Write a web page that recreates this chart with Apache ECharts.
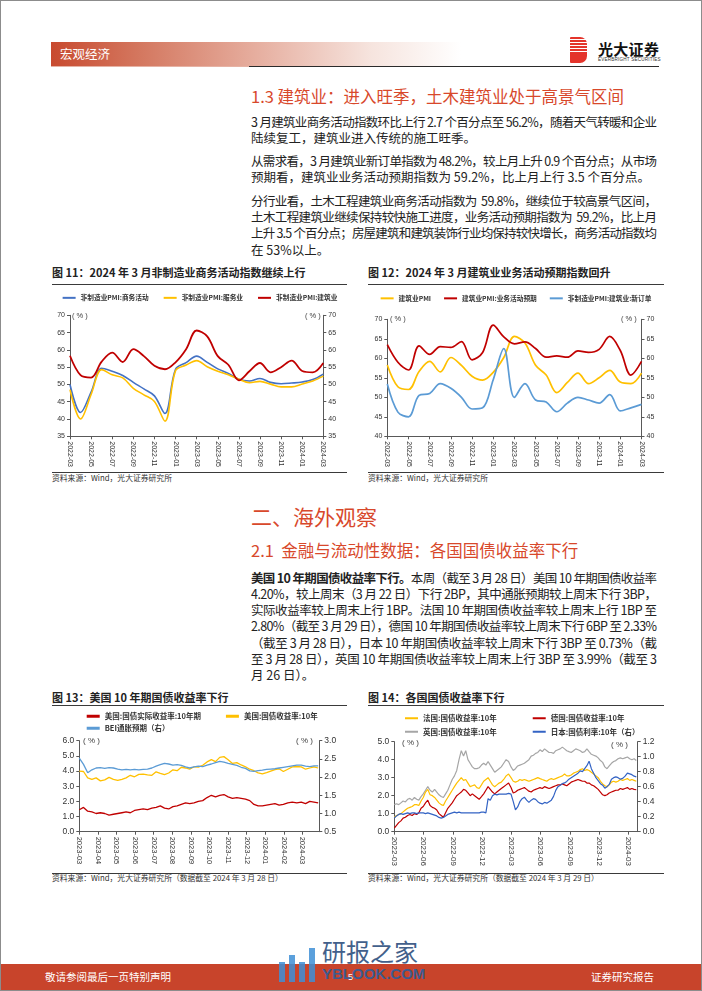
<!DOCTYPE html>
<html><head><meta charset="utf-8">
<script src="https://cdn.jsdelivr.net/npm/echarts/dist/echarts.min.js"></script>
<style>
html,body{margin:0;padding:0;background:#fff;}
#page{position:relative;width:702px;height:991px;overflow:hidden;font-family:"Noto Sans CJK SC","Noto Sans",sans-serif;color:#222;background:#fff;}
.abs{position:absolute;white-space:nowrap;}
.tl{position:absolute;left:251px;width:406px;height:16px;line-height:16px;font-size:12.5px;color:#222;white-space:nowrap;}
.h1{position:absolute;left:251px;color:#D8482B;white-space:nowrap;}
.cap{position:absolute;font-size:11px;font-weight:bold;color:#222;white-space:nowrap;line-height:14px;}
.rule{position:absolute;height:1.3px;background:#3a3a3a;}
.src{position:absolute;font-size:7.8px;color:#333;white-space:nowrap;line-height:10px;}
.pct{position:absolute;font-size:7.5px;color:#404040;white-space:nowrap;line-height:10px;font-family:"Liberation Sans","Noto Sans CJK SC",sans-serif;}
.chart{position:absolute;}
</style></head>
<body>
<div id="page">
  <div class="abs" style="left:0;top:0;width:700px;height:989px;border:1px solid #8c8c8c;"></div>
  <!-- header -->
  <div class="abs" style="left:51px;top:42px;width:410px;height:24px;background:linear-gradient(90deg,#C84A2F 0%,#D47860 22%,#E6AE9F 50%,#F6E4DE 78%,#FFFFFF 100%);"></div>
  <div class="abs" style="left:60px;top:43px;height:21px;line-height:21px;font-size:12.5px;color:#fff;">宏观经济</div>
  <div class="abs" style="left:51px;top:66px;width:200px;height:1px;background:#E6B2A4;"></div>
  <div class="abs" style="left:249px;top:66px;width:410px;height:1.3px;background:#2b2b2b;"></div>
  <div class="abs" style="left:570px;top:37px;width:17px;height:26px;border-radius:1px 7px 7px 1px;background:repeating-linear-gradient(180deg,#E4342B 0 2.3px,#ffffff 2.3px 2.9px);"></div>
  <div class="abs" style="left:598px;top:40px;font-size:15px;line-height:17px;font-weight:bold;color:#111;letter-spacing:0.3px;">光大证券</div>
  <div class="abs" style="left:598px;top:57px;font-size:4.6px;line-height:5px;color:#333;font-family:'Liberation Sans',sans-serif;letter-spacing:0.2px;">EVERBRIGHT SECURITIES</div>

  <!-- section 1.3 -->
  <div class="h1" style="top:84.5px;font-size:16.5px;line-height:22px;">1.3 建筑业：进入旺季，土木建筑业处于高景气区间</div>
  <div class="tl full" style="top:113.7px;">3 月建筑业商务活动指数环比上行 2.7 个百分点至 56.2%，随着天气转暖和企业</div>
  <div class="tl" style="top:130.3px;">陆续复工，建筑业进入传统的施工旺季。</div>
  <div class="tl full" style="top:153px;">从需求看，3 月建筑业新订单指数为 48.2%，较上月上升 0.9 个百分点；从市场</div>
  <div class="tl" style="top:169.3px;">预期看，建筑业业务活动预期指数为 59.2%，比上月上行 3.5 个百分点。</div>
  <div class="tl full" style="top:192.7px;">分行业看，土木工程建筑业商务活动指数为&nbsp; 59.8%，继续位于较高景气区间，</div>
  <div class="tl full" style="top:208.7px;">土木工程建筑业继续保持较快施工进度，业务活动预期指数为&nbsp; 59.2%，比上月</div>
  <div class="tl full" style="top:225.3px;">上升 3.5 个百分点；房屋建筑和建筑装饰行业均保持较快增长，商务活动指数均</div>
  <div class="tl" style="top:242px;">在 53%以上。</div>

  <!-- captions fig 11/12 -->
  <div class="cap" style="left:52px;top:265px;">图 11：2024 年 3 月非制造业商务活动指数继续上行</div>
  <div class="cap" style="left:368px;top:265px;">图 12：2024 年 3 月建筑业业务活动预期指数回升</div>
  <div class="rule" style="left:52px;top:284px;width:295px;"></div>
  <div class="rule" style="left:368px;top:284px;width:296px;"></div>
  <div id="c11" class="chart" style="left:52px;top:288px;width:296px;height:182px;"></div>
  <div id="c12" class="chart" style="left:368px;top:288px;width:296px;height:182px;"></div>
  <div class="pct" style="left:72px;top:311px;">( % )</div>
  <div class="pct" style="left:305px;top:311px;">( % )</div>
  <div class="pct" style="left:390px;top:314px;">( % )</div>
  <div class="pct" style="left:621px;top:314px;">( % )</div>
  <div class="rule" style="left:52px;top:471.5px;width:295px;height:1px;"></div>
  <div class="src" style="left:52px;top:472.5px;">资料来源：Wind，光大证券研究所</div>
  <div class="rule" style="left:368px;top:471.5px;width:296px;height:1px;"></div>
  <div class="src" style="left:368px;top:472.5px;">资料来源：Wind，光大证券研究所</div>

  <!-- section 2 -->
  <div class="h1" style="top:502px;font-size:21px;line-height:29px;">二、海外观察</div>
  <div class="h1" style="top:539px;font-size:16.5px;line-height:22px;">2.1&nbsp; 金融与流动性数据：各国国债收益率下行</div>
  <div class="tl full" style="top:569.5px;"><b>美国 10 年期国债收益率下行。</b>本周（截至 3 月 28 日）美国 10 年期国债收益率</div>
  <div class="tl full" style="top:585.8px;">4.20%，较上周末（3 月 22 日）下行 2BP，其中通胀预期较上周末下行 3BP，</div>
  <div class="tl full" style="top:602px;">实际收益率较上周末上行 1BP。法国 10 年期国债收益率较上周末上行 1BP 至</div>
  <div class="tl full" style="top:618.3px;">2.80%（截至 3 月 29 日），德国 10 年期国债收益率较上周末下行 6BP 至 2.33%</div>
  <div class="tl full" style="top:634.6px;">（截至 3 月 28 日），日本 10 年期国债收益率较上周末下行 3BP 至 0.73%（截</div>
  <div class="tl full" style="top:650.8px;">至 3 月 28 日），英国 10 年期国债收益率较上周末上行 3BP 至 3.99%（截至 3</div>
  <div class="tl" style="top:667px;">月 26 日）。</div>

  <div class="cap" style="left:52px;top:689.5px;">图 13：美国 10 年期国债收益率下行</div>
  <div class="cap" style="left:368px;top:689.5px;">图 14：各国国债收益率下行</div>
  <div class="rule" style="left:52px;top:704.5px;width:295px;"></div>
  <div class="rule" style="left:368px;top:704.5px;width:296px;"></div>
  <div id="c13" class="chart" style="left:52px;top:706px;width:296px;height:163px;"></div>
  <div id="c14" class="chart" style="left:368px;top:706px;width:296px;height:163px;"></div>
  <div class="pct" style="left:83px;top:736px;font-size:8px;">( % )</div>
  <div class="pct" style="left:296px;top:736px;font-size:8px;">( % )</div>
  <div class="pct" style="left:402px;top:737.5px;font-size:8px;">( % )</div>
  <div class="pct" style="left:611px;top:740px;font-size:8px;">( % )</div>
  <div class="rule" style="left:52px;top:872.5px;width:295px;height:1px;"></div>
  <div class="src" style="left:52px;top:873px;">资料来源：Wind，光大证券研究所（数据截至 2024 年 3 月 28 日）</div>
  <div class="rule" style="left:368px;top:872.5px;width:296px;height:1px;"></div>
  <div class="src" style="left:368px;top:873px;">资料来源：Wind，光大证券研究所（数据截至 2024 年 3 月 29 日）</div>

  <!-- footer -->
  <div class="abs" style="left:1px;top:964px;width:700px;height:26px;background:#C8442B;"></div>
  <div class="abs" style="left:45px;top:967px;font-size:10.5px;line-height:20px;color:#fff;">敬请参阅最后一页特别声明</div>
  <div class="abs" style="left:591px;top:967px;font-size:10.5px;line-height:20px;color:#fff;">证券研究报告</div>
  <div class="abs" style="left:348px;top:968px;font-size:9px;line-height:18px;color:#fff;font-family:'Liberation Sans',sans-serif;">5</div>
  <!-- watermark -->
  <div class="abs" style="left:279px;top:962px;width:6px;height:20px;background:#3E8FD6;opacity:0.85;"></div>
  <div class="abs" style="left:289px;top:955px;width:6px;height:27px;background:#3E8FD6;opacity:0.85;"></div>
  <div class="abs" style="left:299px;top:962px;width:6px;height:20px;background:#3E8FD6;opacity:0.85;"></div>
  <div class="abs" style="left:309px;top:948px;width:6px;height:34px;background:#3E8FD6;opacity:0.85;"></div>
  <div class="abs" style="left:322px;top:937px;font-size:24px;line-height:27px;color:#2E4F7E;opacity:0.9;">研报之家</div>
  <div class="abs" style="left:322px;top:965px;font-size:15px;line-height:18px;color:#2F5E9A;font-weight:bold;font-family:'Liberation Sans',sans-serif;opacity:0.9;">YBLOOK.COM</div>
</div>

<script>
// ---------------- data ----------------
const C11_MONTHS = ['2022-03','2022-04','2022-05','2022-06','2022-07','2022-08','2022-09','2022-10','2022-11','2022-12','2023-01','2023-02','2023-03','2023-04','2023-05','2023-06','2023-07','2023-08','2023-09','2023-10','2023-11','2023-12','2024-01','2024-02','2024-03'];
const PMI_BUSINESS = [50.0,41.9,47.8,54.7,53.8,52.6,50.6,48.7,46.7,41.6,54.4,56.3,58.2,56.4,54.5,53.2,51.5,51.0,51.7,50.6,50.2,50.4,50.7,51.4,53.0];
const PMI_SERVICES = [48.5,40.0,47.1,54.3,52.8,51.9,48.9,47.0,45.1,39.4,54.0,55.6,56.9,55.1,53.8,52.8,51.5,50.5,50.9,50.1,49.3,49.3,50.1,51.0,52.4];
const PMI_CONSTRUCTION = [58.3,52.7,52.0,56.6,59.2,56.5,60.2,58.2,55.4,54.4,56.4,60.2,65.6,63.9,58.2,55.7,51.2,53.8,56.2,53.5,55.0,56.9,53.9,53.5,56.2];
const CONSTR_EXPECT = [63.5,59.0,57.0,63.2,61.0,63.0,62.8,64.3,59.6,61.5,68.5,65.5,63.7,64.2,62.5,60.3,60.6,60.3,61.9,61.5,62.3,65.6,62.0,55.7,59.2];
const CONSTR_NEWORDER = [53.4,46.2,45.0,50.5,51.0,53.5,52.3,50.0,47.0,47.3,54.5,62.5,50.0,53.5,49.3,48.8,46.3,48.5,50.0,49.3,48.5,50.7,46.5,47.3,48.2];

// Fig 13: weekly observations starting 2023-03-01
const C13_START = '2023-03-01';
const C13_TICKS = ['2023-03','2023-04','2023-05','2023-06','2023-07','2023-08','2023-09','2023-10','2023-11','2023-12','2024-01','2024-02','2024-03'];
const US_REAL10 = [1.45,1.6,1.35,1.3,1.2,1.25,1.2,1.1,1.15,1.2, 1.25,1.3,1.25,1.4,1.45,1.5,1.45,1.55,1.6,1.7, 1.55,1.5,1.65,1.7,1.8,1.9,1.85,1.9,2.0,2.05, 2.25,2.4,2.3,2.4,2.45,2.3,2.2,2.25,2.2,2.15, 2.05,1.8,1.7,1.7,1.75,1.8,1.85,1.75,1.8,1.9, 1.95,1.9,1.95,1.85,2.0,1.95,1.9];
const US_NOM10 = [4.0,3.97,3.55,3.45,3.55,3.35,3.42,3.58,3.45,3.38, 3.45,3.55,3.72,3.62,3.78,3.8,3.75,3.72,3.95,3.85, 3.76,3.87,4.08,4.02,4.25,4.2,4.12,4.28,4.26,4.38, 4.6,4.75,4.62,4.9,4.95,4.75,4.5,4.55,4.4,4.28, 4.12,4.02,3.88,3.82,3.9,4.0,4.1,4.15,3.97,4.12, 4.27,4.3,4.27,4.12,4.2,4.28,4.2];
const US_BEI = [2.52,2.35,2.12,2.2,2.25,2.26,2.24,2.26,2.25,2.22, 2.2,2.21,2.2,2.21,2.2,2.21,2.22,2.25,2.3,2.34, 2.38,2.36,2.33,2.34,2.32,2.28,2.25,2.28,2.3,2.29, 2.33,2.36,2.4,2.43,2.41,2.38,2.35,2.32,2.27,2.24, 2.17,2.16,2.18,2.19,2.21,2.22,2.23,2.25,2.27,2.29, 2.31,2.33,2.33,2.3,2.29,2.31,2.31];

// Fig 14: weekly observations starting 2022-03-01
const C14_START = '2022-03-01';
const C14_TICKS = ['2022-03','2022-06','2022-09','2022-12','2023-03','2023-06','2023-09','2023-12','2024-03'];
const FR10 = [0.8,0.9,0.95,1.0,1.1,1.2,1.3,1.35,1.4,1.5, 1.5,1.45,1.7,1.9,2.2,2.35,2.05,2.0,1.9,1.75, 1.6,1.5,1.45,1.7,1.9,2.1,2.3,2.5,2.7,2.85, 3.0,2.85,2.9,2.7,2.5,2.55,2.6,2.45,2.4,2.6, 2.8,2.9,3.0,2.8,2.6,2.5,2.6,2.7,2.75,2.9, 3.1,3.2,3.0,2.8,2.75,2.8,2.9,2.85,2.9,2.85, 2.8,2.85,2.9,2.95,3.0,2.95,2.9,2.85,2.8,2.9, 2.95,2.9,2.95,3.0,3.05,3.1,3.2,3.1,3.1,3.15, 3.25,3.3,3.35,3.45,3.5,3.4,3.45,3.4,3.3,3.2, 3.1,3.0,2.8,2.65,2.55,2.5,2.6,2.75,2.8,2.75, 2.8,2.9,2.85,2.9,2.95,2.85,2.9,2.85,2.8];
const DE10 = [0.2,0.35,0.5,0.6,0.75,0.8,0.9,0.95,0.9,1.0, 0.95,1.05,1.3,1.4,1.6,1.75,1.45,1.35,1.3,1.2, 1.0,0.9,0.8,1.05,1.3,1.45,1.6,1.8,2.0,2.1, 2.2,2.35,2.3,2.15,2.0,2.1,2.0,1.9,1.8,1.95, 2.1,2.3,2.5,2.35,2.2,2.1,2.2,2.3,2.4,2.5, 2.6,2.7,2.45,2.15,2.2,2.3,2.35,2.4,2.45,2.35, 2.25,2.2,2.3,2.35,2.4,2.45,2.4,2.5,2.45,2.4, 2.45,2.5,2.55,2.6,2.6,2.65,2.6,2.55,2.65,2.75, 2.8,2.85,2.9,2.85,2.8,2.8,2.7,2.7,2.6,2.55, 2.45,2.35,2.2,2.05,2.0,2.05,2.15,2.2,2.25,2.3, 2.3,2.4,2.35,2.4,2.45,2.35,2.4,2.35,2.33];
const UK10 = [1.5,1.55,1.5,1.6,1.7,1.65,1.8,1.85,1.75,1.9, 1.8,1.75,1.95,2.1,2.3,2.5,2.3,2.2,2.35,2.2, 2.05,1.95,1.9,2.1,2.3,2.6,2.9,3.1,3.4,4.0, 4.5,4.2,4.5,4.0,3.8,3.6,3.5,3.5,3.55,3.7, 3.8,3.7,3.9,3.7,3.5,3.3,3.4,3.5,3.6,3.8, 4.0,3.9,3.6,3.4,3.5,3.65,3.7,3.75,3.8,3.9, 4.0,4.2,4.25,4.35,4.4,4.55,4.45,4.6,4.5,4.4, 4.4,4.35,4.5,4.55,4.6,4.7,4.6,4.5,4.45,4.4, 4.5,4.6,4.55,4.5,4.4,4.45,4.6,4.45,4.3,4.25, 4.2,4.1,3.95,3.85,3.6,3.5,3.65,3.8,3.9,3.95, 4.05,4.1,4.05,4.1,4.15,4.05,4.0,4.05,3.95];
const JP10 = [0.18,0.21,0.23,0.24,0.23,0.24,0.25,0.24,0.25,0.25, 0.24,0.25,0.25,0.25,0.24,0.25,0.24,0.23,0.22,0.21, 0.19,0.18,0.19,0.21,0.23,0.24,0.25,0.26,0.25,0.26, 0.25,0.25,0.25,0.25,0.25,0.25,0.25,0.25,0.25,0.26, 0.26,0.25,0.44,0.42,0.48,0.50,0.49,0.50,0.50,0.50, 0.50,0.51,0.50,0.40,0.29,0.33,0.40,0.44,0.46,0.42, 0.39,0.42,0.44,0.43,0.40,0.38,0.37,0.39,0.38,0.40, 0.42,0.47,0.55,0.60,0.62,0.64,0.65,0.67,0.70,0.72, 0.74,0.76,0.78,0.81,0.80,0.84,0.88,0.94,0.84,0.78, 0.72,0.68,0.64,0.62,0.58,0.60,0.63,0.70,0.72,0.73, 0.72,0.70,0.71,0.74,0.78,0.77,0.76,0.74,0.73];

// ---------------- helpers ----------------
const NUM = '"Liberation Sans","Noto Sans CJK SC",sans-serif';
const CJK = '"Noto Sans CJK SC",sans-serif';
const AX = '#595959';
const RED = '#C00000', YEL = '#FFC000', BLUE = '#4472C4', LBLUE = '#5B9BD5', GRAY = '#A6A6A6', DBLUE = '#3363C4';

function monthIndex(startStr, k) {
  const s = new Date(startStr + 'T00:00:00Z');
  const d = new Date(s.getTime() + k * 7 * 86400000);
  const dim = new Date(Date.UTC(d.getUTCFullYear(), d.getUTCMonth() + 1, 0)).getUTCDate();
  return (d.getUTCFullYear() - s.getUTCFullYear()) * 12 + (d.getUTCMonth() - s.getUTCMonth()) + (d.getUTCDate() - 1) / dim;
}
function pairs(startStr, vals) { return vals.map((v, k) => [monthIndex(startStr, k), v]); }

function yAx(min, max, interval, pos, fs, dec) {
  return {
    type: 'value', position: pos, min: min, max: max, interval: interval,
    axisLine: { show: true, lineStyle: { color: AX, width: 1 } },
    axisTick: { show: true, length: 3, lineStyle: { color: AX } },
    splitLine: { show: false },
    axisLabel: { fontSize: fs, color: '#333', margin: 5, fontFamily: NUM,
      formatter: v => dec ? v.toFixed(dec) : String(v) }
  };
}
function legendCfg(names, left, top, fs, gap, iw, ih) {
  return { data: names, left: left, top: top, icon: 'rect', itemWidth: iw, itemHeight: ih, itemGap: gap,
    padding: 0, textStyle: { fontSize: fs, fontWeight: 'bold', color: '#333', fontFamily: CJK } };
}
function lineS(name, data, color, width, smooth, yi) {
  return { name: name, type: 'line', data: data, yAxisIndex: yi || 0, smooth: smooth, showSymbol: false,
    symbol: 'none', lineStyle: { color: color, width: width }, itemStyle: { color: color }, z: 2 };
}
function catX(fs) {
  return { type: 'category', data: C11_MONTHS, boundaryGap: false,
    axisLine: { show: true, lineStyle: { color: AX } },
    axisTick: { show: true, length: 3, interval: 1, lineStyle: { color: AX } },
    axisLabel: { interval: 1, rotate: -90, fontSize: fs, color: '#333', margin: 5, fontFamily: NUM } };
}
function valX(max, interval, ticks, fs) {
  return { type: 'value', min: 0, max: max, interval: interval,
    axisLine: { show: true, onZero: true, lineStyle: { color: AX } },
    axisTick: { show: true, length: 3, lineStyle: { color: AX } },
    splitLine: { show: false },
    axisLabel: { rotate: -90, fontSize: fs, color: '#333', margin: 5, fontFamily: NUM, showMaxLabel: false, hideOverlap: false,
      formatter: v => { const i = Math.round(v / interval); return Math.abs(v - i * interval) < 1e-6 && ticks[i] ? ticks[i] : ''; } } };
}

// ---------------- chart 11 ----------------
const c11 = echarts.init(document.getElementById('c11'));
c11.setOption({
  animation: false,
  grid: { left: 18, right: 24.7, top: 27.3, bottom: 33 },
  legend: legendCfg(['非制造业PMI:商务活动','非制造业PMI:服务业','非制造业PMI:建筑业'], 'center', 6.5, 6.7, 15, 13, 2),
  xAxis: catX(7),
  yAxis: [yAx(35, 70, 5, 'left', 7, 0), yAx(35, 70, 5, 'right', 7, 0)],
  series: [
    lineS('非制造业PMI:商务活动', PMI_BUSINESS, BLUE, 1.6, 0.35),
    lineS('非制造业PMI:服务业', PMI_SERVICES, YEL, 1.6, 0.35),
    lineS('非制造业PMI:建筑业', PMI_CONSTRUCTION, RED, 1.8, 0.35)
  ]
});

// ---------------- chart 12 ----------------
const c12 = echarts.init(document.getElementById('c12'));
c12.setOption({
  animation: false,
  grid: { left: 19.3, right: 22.5, top: 31.3, bottom: 32 },
  legend: legendCfg(['建筑业PMI','建筑业PMI:业务活动预期','非制造业PMI:建筑业:新订单'], 'center', 7, 6.7, 13, 13, 2),
  xAxis: catX(7),
  yAxis: [yAx(40, 70, 5, 'left', 7, 0), yAx(40, 70, 5, 'right', 7, 0)],
  series: [
    lineS('建筑业PMI', PMI_CONSTRUCTION, YEL, 1.7, 0.35),
    lineS('建筑业PMI:业务活动预期', CONSTR_EXPECT, RED, 1.7, 0.35),
    lineS('非制造业PMI:建筑业:新订单', CONSTR_NEWORDER, LBLUE, 1.7, 0.35)
  ]
});

// ---------------- chart 13 ----------------
const c13 = echarts.init(document.getElementById('c13'));
c13.setOption({
  animation: false,
  grid: { left: 27.3, right: 28.7, top: 34.7, bottom: 37.3 },
  legend: [
    legendCfg(['美国:国债实际收益率:10年期','美国:国债收益率:10年'], 34.7, 6.5, 7.5, 25, 13, 3),
    legendCfg(['BEI通胀预期（右）'], 34.7, 18.5, 7.5, 25, 13, 3)
  ],
  xAxis: valX(12.9, 1, C13_TICKS, 7.5),
  yAxis: [yAx(0, 6, 1, 'left', 8.5, 1), yAx(0.5, 3.0, 0.5, 'right', 8.5, 1)],
  series: [
    lineS('美国:国债实际收益率:10年期', pairs(C13_START, US_REAL10), RED, 1.3, false, 0),
    lineS('美国:国债收益率:10年', pairs(C13_START, US_NOM10), YEL, 1.3, false, 0),
    lineS('BEI通胀预期（右）', pairs(C13_START, US_BEI), LBLUE, 1.3, false, 1)
  ]
});

// ---------------- chart 14 ----------------
const c14 = echarts.init(document.getElementById('c14'));
c14.setOption({
  animation: false,
  grid: { left: 26.3, right: 26.3, top: 35.7, bottom: 34 },
  legend: [
    legendCfg(['法国:国债收益率:10年','德国:国债收益率:10年'], 37, 8.5, 7.5, 36, 13, 2),
    legendCfg(['英国:国债收益率:10年','日本:国债利率:10年（右）'], 37, 22, 7.5, 36, 13, 2)
  ],
  xAxis: valX(24.95, 3, C14_TICKS, 8),
  yAxis: [yAx(0, 5, 1, 'left', 8.5, 1), yAx(0, 1.2, 0.2, 'right', 8.5, 1)],
  series: [
    lineS('英国:国债收益率:10年', pairs(C14_START, UK10), GRAY, 1.2, false, 0),
    lineS('法国:国债收益率:10年', pairs(C14_START, FR10), YEL, 1.2, false, 0),
    lineS('德国:国债收益率:10年', pairs(C14_START, DE10), RED, 1.2, false, 0),
    lineS('日本:国债利率:10年（右）', pairs(C14_START, JP10), DBLUE, 1.2, false, 1)
  ]
});

// ---------------- justify full text lines ----------------
document.querySelectorAll('.tl.full').forEach(el => {
  const span = document.createElement('span');
  while (el.firstChild) span.appendChild(el.firstChild);
  el.appendChild(span);
  const w = span.getBoundingClientRect().width;
  const n = span.textContent.length;
  const ls = (406 - w) / (n - 1);
  span.style.letterSpacing = ls + 'px';
});
</script>
</body></html>
